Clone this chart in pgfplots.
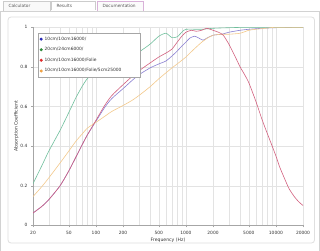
\documentclass[border=0pt]{standalone}
\usepackage{pgfplots}
\pgfplotsset{compat=1.18}
\usepackage{pgfplotstable}
\usepackage{fontspec}
\setmainfont{DejaVu Sans}
\definecolor{lblue}{HTML}{8A80D2}
\definecolor{lgreen}{HTML}{6FBF9C}
\definecolor{lred}{HTML}{D2607E}
\definecolor{lorange}{HTML}{F3C98C}
\definecolor{dblue}{HTML}{2A2AB8}
\definecolor{dgreen}{HTML}{2E8B3A}
\definecolor{dred}{HTML}{E02A2A}
\definecolor{dorange}{HTML}{F0A040}
\definecolor{txt}{HTML}{333333}

\pgfplotstableread{
f a
20 0.062
25 0.095
30 0.13
40 0.20
50 0.275
60 0.345
70 0.405
80 0.455
100 0.525
125 0.595
150 0.64
200 0.69
250 0.73
300 0.76
400 0.795
500 0.815
600 0.83
700 0.855
800 0.88
900 0.905
1000 0.925
1100 0.945
1250 0.955
1400 0.945
1550 0.935
1700 0.945
2000 0.96
2500 0.965
3000 0.975
4000 0.985
5000 0.99
7000 0.995
10000 0.998
20000 1.0
}\blue

\pgfplotstableread{
f a
20 0.21
25 0.30
30 0.375
40 0.48
50 0.57
60 0.645
70 0.70
80 0.74
100 0.785
125 0.805
150 0.822
200 0.845
250 0.86
300 0.875
400 0.915
500 0.955
600 0.97
700 0.948
800 0.952
900 0.975
1000 0.99
1500 0.99
2000 0.995
3000 0.998
5000 1.0
20000 1.0
}\green

\pgfplotstableread{
f a
20 0.062
25 0.095
30 0.13
40 0.20
50 0.275
60 0.345
70 0.405
80 0.455
100 0.53
125 0.605
150 0.655
200 0.71
250 0.75
300 0.78
400 0.82
500 0.85
600 0.87
700 0.89
800 0.925
900 0.955
1000 0.975
1150 0.985
1300 0.98
1500 0.985
1700 0.995
2000 0.985
2300 0.975
2600 0.96
3000 0.915
3500 0.855
4000 0.80
4500 0.76
5000 0.72
6000 0.625
7000 0.535
8000 0.465
9000 0.405
10000 0.35
11000 0.295
12500 0.235
14000 0.185
16000 0.145
18000 0.118
20000 0.10
}\red

\pgfplotstableread{
f a
20 0.145
25 0.195
30 0.24
40 0.315
50 0.375
60 0.425
70 0.46
80 0.49
100 0.52
125 0.55
150 0.575
200 0.605
250 0.63
300 0.655
400 0.70
500 0.74
600 0.77
700 0.795
800 0.815
1000 0.85
1200 0.885
1500 0.925
1800 0.95
2000 0.96
2500 0.965
3000 0.965
4000 0.97
5000 0.985
6000 0.99
8000 0.996
10000 1.0
20000 1.0
}\orange

\begin{document}
\begin{tikzpicture}[x=1pt,y=1pt]
\useasboundingbox (0,0) rectangle (320,250);
\fill[white] (0,0) rectangle (320,250);
% outer panel
\draw[gray!35] (0.5,-1) -- (0.5,239) -- (319.5,239) -- (319.5,-1);
% tabs
\draw[gray!40, fill=gray!5] (3,239) -- (3,249) -- (50,249) -- (50,239);
\node[anchor=west, text=gray!70!black, font=\fontsize{4.3}{5}\selectfont] at (5,244) {Calculator};
\draw[gray!40, fill=white] (51,239.6) -- (51,249) -- (95,249) -- (95,239.6);
\node[anchor=west, text=gray!70!black, font=\fontsize{4.3}{5}\selectfont] at (53,244) {Results};
\draw[violet!30, fill=gray!3] (97,239) -- (97,249) -- (143,249) -- (143,239);
\node[anchor=west, text=gray!70!black, font=\fontsize{4.3}{5}\selectfont] at (99,244) {Documentation};
% inner panel
\draw[gray!25, line width=0.8pt, rounded corners=3pt, fill=white] (8,7) rectangle (314.5,233);
\begin{axis}[
  at={(33pt,24.7pt)}, anchor=south west, scale only axis,
  width=270pt, height=198pt,
  xmode=log, xmin=20, xmax=20000, ymin=0, ymax=1,
  xtick={20,50,100,200,500,1000,2000,5000,10000,20000},
  xticklabels={20,50,100,200,500,1000,2000,5000,10000,20000},
  minor xtick={30,40,60,70,80,90,300,400,600,700,800,900,3000,4000,6000,7000,8000,9000},
  ytick={0,0.2,0.4,0.6,0.8,1},
  yticklabels={0,0.2,0.4,0.6,0.8,1},
  grid=both,
  major grid style={gray!22, line width=0.4pt},
  minor grid style={gray!22, line width=0.4pt},
  axis x line*=bottom, axis y line*=left,
  axis line style={-, gray!70, line width=0.5pt},
  tick align=outside, major tick length=2pt, minor tick length=0pt,
  tick style={gray!70},
  /pgf/number format/assume math mode=true,
  tick label style={font=\fontsize{4.4}{5}\selectfont, text=txt},
  xlabel={Frequency (Hz)}, ylabel={Absorption Coefficient},
  label style={font=\fontsize{4.6}{5.5}\selectfont, text=txt},
  xlabel style={yshift=3pt},
  ylabel style={yshift=-5pt},
  legend style={at={(0.0185,0.971)}, anchor=north west, draw=gray!70,
    fill=white, font=\fontsize{4.4}{5}\selectfont, text=txt,
    inner sep=1.5pt, row sep=1.8pt, legend cell align=left,
    text width=92pt},
  every axis plot/.append style={line width=0.6pt, smooth, tension=0.4},
]
\addplot[lblue, forget plot] table[x=f,y=a] {\blue};
\addplot[lgreen, forget plot] table[x=f,y=a] {\green};
\addplot[lorange, forget plot] table[x=f,y=a] {\orange};
\addplot[lred, forget plot] table[x=f,y=a] {\red};
\addlegendimage{legend image code/.code={\fill[dblue] (0.25em,0) circle (1.2pt);}}
\addlegendentry{10cm/10cm16000/}
\addlegendimage{legend image code/.code={\fill[dgreen] (0.25em,0) circle (1.2pt);}}
\addlegendentry{20cm/24cm6000/}
\addlegendimage{legend image code/.code={\fill[dred] (0.25em,0) circle (1.2pt);}}
\addlegendentry{10cm/10cm16000/Folie}
\addlegendimage{legend image code/.code={\fill[dorange] (0.25em,0) circle (1.2pt);}}
\addlegendentry{10cm/10cm16000/Folie/5cm25000}
\end{axis}
\end{tikzpicture}
\end{document}
